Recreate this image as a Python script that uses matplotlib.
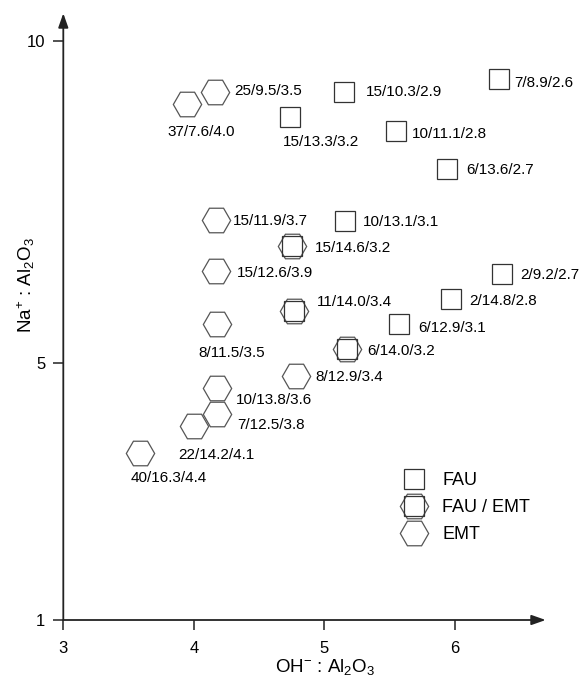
import matplotlib
matplotlib.use("Agg")
import matplotlib.pyplot as plt
from matplotlib.lines import Line2D
from matplotlib.legend_handler import HandlerTuple

plt.rcParams['font.family'] = ['Liberation Sans', 'DejaVu Sans']
plt.rcParams['mathtext.fontset'] = 'custom'
plt.rcParams['mathtext.rm'] = 'Liberation Sans'
plt.rcParams['mathtext.it'] = 'Liberation Sans:italic'

# FAU (squares)
fau_x = [5.15, 6.34, 4.74, 5.55, 5.94, 5.16, 6.36, 5.97, 5.57]
fau_y = [9.21, 9.42, 8.82, 8.60, 8.02, 7.21, 6.38, 5.99, 5.60]
fau_lab = ["15/10.3/2.9", "7/8.9/2.6", "15/13.3/3.2", "10/11.1/2.8", "6/13.6/2.7",
           "10/13.1/3.1", "2/9.2/2.7", "2/14.8/2.8", "6/12.9/3.1"]

# FAU / EMT (hexagon + square)
mix_x = [4.75, 4.77, 5.17]
mix_y = [6.81, 5.81, 5.21]
mix_lab = ["15/14.6/3.2", "11/14.0/3.4", "6/14.0/3.2"]

# EMT (hexagons)
emt_x = [4.16, 3.95, 4.17, 4.17, 4.18, 4.78, 4.18, 4.18, 4.00, 3.59]
emt_y = [9.21, 9.02, 7.22, 6.42, 5.61, 4.80, 4.61, 4.21, 4.02, 3.59]
emt_lab = ["25/9.5/3.5", "37/7.6/4.0", "15/11.9/3.7", "15/12.6/3.9", "8/11.5/3.5",
           "8/12.9/3.4", "10/13.8/3.6", "7/12.5/3.8", "22/14.2/4.1", "40/16.3/4.4"]

# label placement: (align, dx px, dy px)
fau_pos = [("l", 22, 0), ("l", 15, -4), ("c", 31, -25), ("l", 16, -3), ("l", 19, -1),
           ("l", 18, -1), ("l", 18, -1), ("l", 18, -2), ("l", 19, -4)]
mix_pos = [("l", 23, -2), ("l", 22, 9), ("l", 21, -2)]
emt_pos = [("l", 20, 1), ("c", 14, -28), ("l", 17, -1), ("l", 21, -2), ("c", 14, -29),
           ("l", 20, -1), ("l", 19, -12), ("l", 20, -11), ("c", 23, -29), ("c", 28, -25)]

sq_style = dict(marker="s", ms=13.7, mfc="none", mec="#333333", mew=0.9, ls="none")
hx_style = dict(marker="H", ms=20.4, mfc="none", mec="#555555", mew=0.9, ls="none")

fig = plt.figure(figsize=(5.83, 6.76), dpi=100)
ax = fig.add_axes([63.3 / 583, 56 / 676, 482.4 / 583, 606.7 / 676])

ax.plot(fau_x, fau_y, **sq_style)
ax.plot(mix_x, mix_y, **hx_style)
ax.plot(mix_x, mix_y, **sq_style)
ax.plot(emt_x, emt_y, **hx_style)


def put_labels(xs, ys, labs, pos):
    for x, y, t, (al, dx, dy) in zip(xs, ys, labs, pos):
        ax.annotate(t, (x, y), xytext=(dx, dy), textcoords="offset pixels",
                    ha="left" if al == "l" else "center", va="center", fontsize=11)


put_labels(fau_x, fau_y, fau_lab, fau_pos)
put_labels(mix_x, mix_y, mix_lab, mix_pos)
put_labels(emt_x, emt_y, emt_lab, emt_pos)

ax.set_xlim(3, 6.695)
ax.set_ylim(1, 10.435)
ax.set_xticks([3, 4, 5, 6])
ax.set_yticks([1, 5, 10])
ax.tick_params(direction="out", length=7, width=1.1, labelsize=12, color="#222222")
ax.tick_params(axis="x", pad=8)
ax.tick_params(axis="y", pad=6)

for s in ax.spines.values():
    s.set_visible(False)
arrow = dict(arrowstyle="-|>,head_length=0.85,head_width=0.3", lw=1.3, color="#222222",
             shrinkA=0, shrinkB=0)
ax.annotate("", xy=(1, 0), xytext=(0, 0), xycoords="axes fraction", arrowprops=arrow)
ax.annotate("", xy=(0, 1), xytext=(0, 0), xycoords="axes fraction", arrowprops=arrow)

ax.set_xlabel("OH$^{-}$ : Al$_2$O$_3$", fontsize=13.5)
ax.xaxis.set_label_coords(0.5425, -0.061)
ax.set_ylabel("Na$^{+}$ : Al$_2$O$_3$", fontsize=13.5)
ax.yaxis.set_label_coords(-0.078, 0.552)
ax.yaxis.label.set_va("center")

h_fau = Line2D([], [], **sq_style)
h_mix = (Line2D([], [], **hx_style), Line2D([], [], **sq_style))
h_emt = Line2D([], [], **hx_style)
ax.legend([h_fau, h_mix, h_emt], ["FAU", "FAU / EMT", "EMT"],
          handler_map={tuple: HandlerTuple(ndivide=1, pad=0)},
          loc="upper left", bbox_to_anchor=(0.708, 0.244), frameon=False,
          borderpad=0, borderaxespad=0, handlelength=1.0, handletextpad=1.07,
          labelspacing=0.55, fontsize=13)

fig.savefig("out.png", dpi=100)
